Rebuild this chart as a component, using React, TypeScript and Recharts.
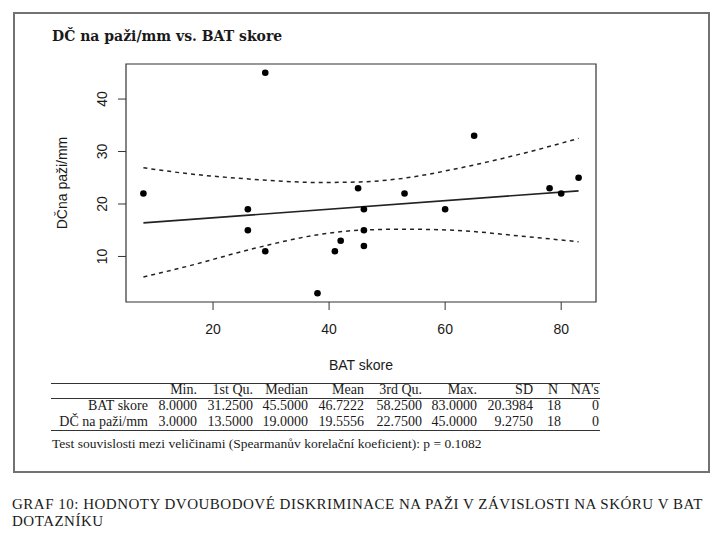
import { ScatterChart, Scatter, XAxis, YAxis, ReferenceArea, Label } from 'recharts';

// raw observations (BAT skore vs. DČ na paži/mm)
const batSkore = [8, 29, 26, 26, 29, 38, 41, 42, 45, 46, 46, 46, 53, 60, 65, 78, 80, 83];
const dcPazi = [22, 45, 19, 15, 11, 3, 11, 13, 23, 19, 15, 12, 22, 19, 33, 23, 22, 25];

// fitted line and confidence band
const fitX = [8, 83];
const fitY = [16.4, 22.5];
const bandX = [8, 15.5, 27, 38.4, 45.3, 52.8, 61.4, 72.9, 83];
const upperY = [26.9, 25.8, 24.7, 24.1, 24.2, 24.9, 26.6, 29.5, 32.5];
const lowerY = [6.1, 8.1, 11.5, 14.2, 15.0, 15.2, 15.0, 13.9, 12.8];

const xTicks = [20, 40, 60, 80];
const yTicks = [10, 20, 30, 40];

// summary table
const statCols = ['Min.', '1st Qu.', 'Median', 'Mean', '3rd Qu.', 'Max.', 'SD', 'N', "NA's"];
const rowNames = ['BAT skore', 'DČ na paži/mm'];
const batStats = ['8.0000', '31.2500', '45.5000', '46.7222', '58.2500', '83.0000', '20.3984', '18', '0'];
const dcStats = ['3.0000', '13.5000', '19.0000', '19.5556', '22.7500', '45.0000', '9.2750', '18', '0'];

const colRight = [197, 253, 308, 364, 422, 477, 533, 0, 599];
const nLeft = 547;

const points = batSkore.map((x, i) => ({ x, y: dcPazi[i] }));
const fitLine = fitX.map((x, i) => ({ x, y: fitY[i] }));
const upperBand = bandX.map((x, i) => ({ x, y: upperY[i] }));
const lowerBand = bandX.map((x, i) => ({ x, y: lowerY[i] }));

const SANS = '"Liberation Sans", Arial, sans-serif';
const SERIF = '"Liberation Serif", "Times New Roman", serif';
const INK = '#1a1a1a';

const Dot = (p: any) => <circle cx={p.cx} cy={p.cy} r={3.3} fill="#000" />;
const NoDot = () => <g />;

const YTick = (props: any) => {
  const { x, y, payload } = props;
  return (
    <text
      x={x}
      y={y}
      transform={`rotate(-90 ${x} ${y})`}
      textAnchor="middle"
      dominantBaseline="central"
      fontSize={14}
      fontFamily={SANS}
      fill={INK}
    >
      {payload.value}
    </text>
  );
};

function Cell({ text, right, left, top }: any) {
  const style: any = {
    position: 'absolute',
    top,
    whiteSpace: 'nowrap',
    lineHeight: '16px',
    fontFamily: SERIF,
    fontSize: 14,
    color: INK,
  };
  if (left !== undefined) style.left = left;
  else style.right = 727 - right;
  return <div style={style}>{text}</div>;
}

export default function App() {
  const rows = [batStats, dcStats];
  return (
    <div
      style={{
        position: 'absolute',
        left: 0,
        top: 0,
        width: 727,
        height: 557,
        background: '#fff',
        overflow: 'hidden',
      }}
    >
      {/* outer frame */}
      <div
        style={{
          position: 'absolute',
          left: 13,
          top: 12,
          width: 697,
          height: 461,
          border: '2px solid #727272',
          boxSizing: 'border-box',
        }}
      />
      <div
        style={{
          position: 'absolute',
          left: 52,
          top: 28,
          fontFamily: '"DejaVu Serif", serif',
          fontWeight: 700,
          fontSize: 14,
          color: INK,
          whiteSpace: 'nowrap',
        }}
      >
        DČ na paži/mm vs. BAT skore
      </div>

      <div style={{ position: 'absolute', left: 0, top: 0 }}>
        <ScatterChart
          width={727}
          height={400}
          margin={{ top: 64, right: 131, bottom: 38, left: 0 }}
        >
          <XAxis
            type="number"
            dataKey="x"
            domain={[5, 86]}
            ticks={xTicks}
            allowDataOverflow
            height={60}
            axisLine={false}
            tickSize={8}
            tickMargin={14}
            tickLine={{ stroke: '#333' }}
            tick={{ fontSize: 14, fontFamily: SANS, fill: INK }}
          >
            <Label
              content={(p: any) => (
                <text
                  x={p.viewBox.x + p.viewBox.width / 2}
                  y={p.viewBox.y + 68}
                  textAnchor="middle"
                  fontSize={14}
                  fontFamily={SANS}
                  fill={INK}
                >
                  BAT skore
                </text>
              )}
            />
          </XAxis>
          <YAxis
            type="number"
            dataKey="y"
            domain={[1.32, 46.68]}
            ticks={yTicks}
            allowDataOverflow
            width={126}
            axisLine={false}
            tickSize={8}
            tickMargin={16}
            tickLine={{ stroke: '#333' }}
            tick={<YTick />}
          >
            <Label
              content={(p: any) => (
                <text
                  x={62}
                  y={p.viewBox.y + p.viewBox.height / 2}
                  transform={`rotate(-90 62 ${p.viewBox.y + p.viewBox.height / 2})`}
                  textAnchor="middle"
                  dominantBaseline="central"
                  fontSize={14}
                  fontFamily={SANS}
                  fill={INK}
                >
                  DČna paži/mm
                </text>
              )}
            />
          </YAxis>
          <ReferenceArea
            x1={5}
            x2={86}
            y1={1.32}
            y2={46.68}
            fill="none"
            stroke="#333"
            strokeWidth={1.2}
            fillOpacity={0}
            strokeOpacity={1}
            ifOverflow="visible"
          />
          <Scatter
            data={upperBand}
            line={{ stroke: '#222', strokeWidth: 1.5, strokeDasharray: '4 4' }}
            lineJointType="monotoneX"
            shape={NoDot}
            isAnimationActive={false}
          />
          <Scatter
            data={lowerBand}
            line={{ stroke: '#222', strokeWidth: 1.5, strokeDasharray: '4 4' }}
            lineJointType="monotoneX"
            shape={NoDot}
            isAnimationActive={false}
          />
          <Scatter
            data={fitLine}
            line={{ stroke: '#222', strokeWidth: 1.6 }}
            shape={NoDot}
            isAnimationActive={false}
          />
          <Scatter data={points} shape={Dot} isAnimationActive={false} />
        </ScatterChart>
      </div>

      {/* summary table */}
      <div style={{ position: 'absolute', left: 51, top: 383, width: 549, borderTop: '1.5px solid #333' }} />
      <div style={{ position: 'absolute', left: 51, top: 398, width: 549, borderTop: '1px solid #333' }} />
      <div style={{ position: 'absolute', left: 51, top: 430, width: 549, borderTop: '1.5px solid #333' }} />
      {statCols.map((c, i) =>
        i === 7 ? (
          <Cell key={c} text={c} left={nLeft + 1} top={382} />
        ) : (
          <Cell key={c} text={c} right={colRight[i]} top={382} />
        )
      )}
      {rowNames.map((name, r) => (
        <div key={name}>
          <Cell text={name} right={148} top={398 + r * 16} />
          {rows[r].map((v, i) =>
            i === 7 ? (
              <Cell key={i} text={v} left={nLeft} top={398 + r * 16} />
            ) : (
              <Cell key={i} text={v} right={colRight[i]} top={398 + r * 16} />
            )
          )}
        </div>
      ))}
      <div
        style={{
          position: 'absolute',
          left: 52,
          top: 436,
          fontFamily: SERIF,
          fontSize: 13.5,
          color: INK,
          whiteSpace: 'nowrap',
          lineHeight: '16px',
        }}
      >
        Test souvislosti mezi veličinami (Spearmanův korelační koeficient): p = 0.1082
      </div>

      {/* caption */}
      <div
        style={{
          position: 'absolute',
          left: 12,
          top: 496,
          width: 715,
          fontFamily: SERIF,
          fontSize: 15,
          letterSpacing: 0.5,
          lineHeight: '17px',
          color: INK,
          whiteSpace: 'nowrap',
        }}
      >
        GRAF 10: HODNOTY DVOUBODOVÉ DISKRIMINACE NA PAŽI V ZÁVISLOSTI NA SKÓRU V BAT
        <br />
        DOTAZNÍKU
      </div>
    </div>
  );
}
